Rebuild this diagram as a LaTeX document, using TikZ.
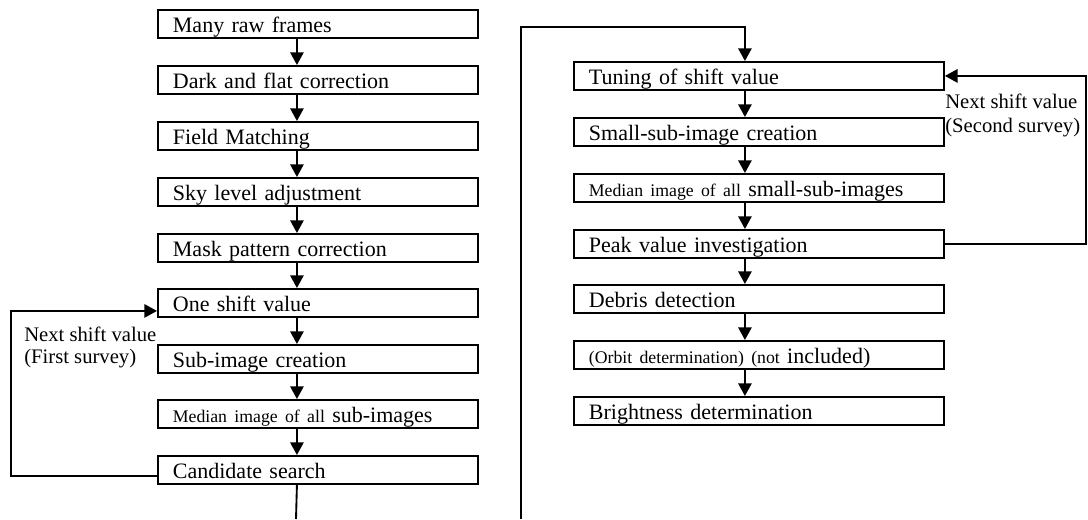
\documentclass[tikz,border=0pt]{standalone}
\usepackage{fontspec}
\setmainfont{Liberation Serif}
\usetikzlibrary{arrows.meta,calc}
\newcommand{\smallfnt}{\fontsize{13.3}{15}\selectfont}
\begin{document}
\begin{tikzpicture}[x=0.75pt,y=-0.75pt,
  box/.style={draw,line width=1.4pt,anchor=north west,minimum height=21pt,inner ysep=0pt,inner xsep=11.25pt,text height=13.5pt,text depth=0pt,align=left,font=\fontsize{16.5}{18}\selectfont},
  lbox/.style={box,text width=217.5pt},
  rbox/.style={box,text width=255pt},
  arr/.style={line width=1.4pt,-{Triangle[length=9.5pt,width=10pt]}},
  conn/.style={line width=1.4pt},
  lab/.style={anchor=base west,align=left,inner sep=0pt}
]
\useasboundingbox (0,0) rectangle (1088,519);
% left column
\node[lbox] (l1) at (157,9)   {Many raw frames};
\node[lbox] (l2) at (157,65)  {Dark and flat correction};
\node[lbox] (l3) at (157,121) {Field Matching};
\node[lbox] (l4) at (157,177) {Sky level adjustment};
\node[lbox] (l5) at (157,233) {Mask pattern correction};
\node[lbox] (l6) at (157,288) {One shift value};
\node[lbox] (l7) at (157,344) {Sub-image creation};
\node[lbox] (l8) at (157,399) {{\smallfnt Median image of all }sub-images};
\node[lbox] (l9) at (157,455) {Candidate search};
% right column
\node[rbox] (r1) at (573,61)  {Tuning of shift value};
\node[rbox] (r2) at (573,117) {Small-sub-image creation};
\node[rbox] (r3) at (573,173) {{\smallfnt Median image of all }small-sub-images};
\node[rbox] (r4) at (573,229) {Peak value investigation};
\node[rbox] (r5) at (573,284) {Debris detection};
\node[rbox] (r6) at (573,340) {{\smallfnt (Orbit determination) (not }included)};
\node[rbox] (r7) at (573,396) {Brightness determination};
% arrows left
\foreach \a/\b in {l1/l2,l2/l3,l3/l4,l4/l5,l5/l6,l6/l7,l7/l8,l8/l9}
  \draw[arr] ($(\a.south)+(-21,0)$) -- ($(\b.north)+(-21,0)$);
\foreach \a/\b in {r1/r2,r2/r3,r3/r4,r4/r5,r5/r6,r6/r7}
  \draw[arr] ($(\a.south)+(-14,0)$) -- ($(\b.north)+(-14,0)$);
% loops
\coordinate (lc) at (11,400);
\draw[arr] ($(l9.west)+(0,6)$) -| (lc) |- ($(l6.west)+(0,8)$);
\coordinate (rc) at (1086,160);
\draw[arr] (r4.east) -| (rc) |- (r1.east);
% continuation
\coordinate (lb) at (296,519);
\draw[conn] ($(l9.south)+(-21,0)$) -- (lb);
\coordinate (rb) at (521,519);
\coordinate (rt) at (521,27);
\draw[arr] (rb) -- (rt) -| ($(r1.north)+(-14,0)$);
% labels
\node[lab,font=\fontsize{15.5}{16.2}\selectfont] (nl) at (24,363) {Next shift value\\(First survey)};
\node[lab,font=\fontsize{15.5}{17.6}\selectfont] (nr) at (945,132) {Next shift value\\(Second survey)};
\end{tikzpicture}
\end{document}
